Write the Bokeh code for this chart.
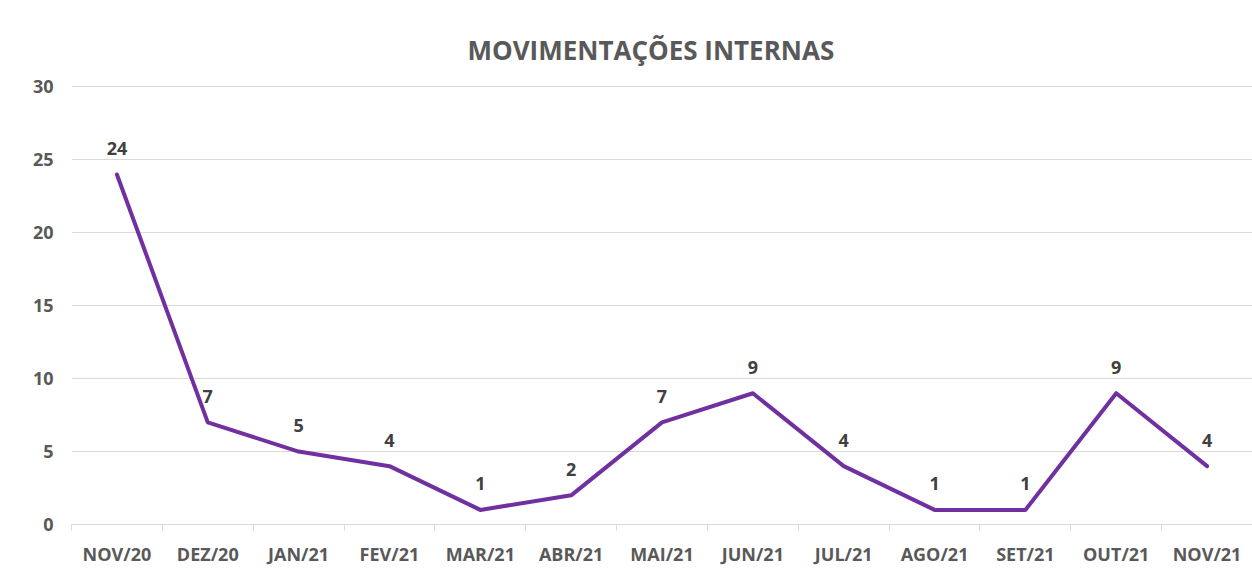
from bokeh.plotting import figure
from bokeh.models import (Range1d, LinearAxis, FixedTicker, SingleIntervalTicker,
                          ColumnDataSource)
from bokeh.core.properties import value
from bokeh.embed import file_html
from bokeh.resources import INLINE

# ---- data ----
categories = ["NOV/20", "DEZ/20", "JAN/21", "FEV/21", "MAR/21", "ABR/21", "MAI/21",
              "JUN/21", "JUL/21", "AGO/21", "SET/21", "OUT/21", "NOV/21"]
values = [24, 7, 5, 4, 1, 2, 7, 9, 4, 1, 1, 9, 4]
title_text = "MOVIMENTAÇÕES INTERNAS"

n = len(categories)
centers = [i + 0.5 for i in range(n)]
bounds = [float(i) for i in range(n + 1)]

FONT = "Open Sans"
GRID = "#d9d9d9"

p = figure(width=1252, height=576, output_backend="svg", toolbar_location=None,
           x_range=Range1d(0, n), y_range=Range1d(0, 30.1),
           x_axis_location=None, y_axis_location=None,
           min_border_left=71, min_border_right=0, min_border_top=85, min_border_bottom=52)
p.outline_line_color = None
p.background_fill_color = "white"
p.border_fill_color = "white"

p.title.text = title_text
p.title.align = "left"
p.title.offset = 396
p.title.text_font = FONT
p.title.text_font_style = "bold"
p.title.text_font_size = "26px"
p.title.text_color = "#595959"
p.title.standoff = 36

# y axis
yax = LinearAxis(ticker=FixedTicker(ticks=[0, 5, 10, 15, 20, 25, 30]))
yax.axis_line_color = None
yax.major_tick_line_color = None
yax.major_tick_out = 0
yax.major_tick_in = 0
yax.minor_tick_line_color = None
yax.minor_tick_out = 0
yax.minor_tick_in = 0
yax.major_label_standoff = 18
yax.major_label_text_font = FONT
yax.major_label_text_font_style = "bold"
yax.major_label_text_font_size = "18px"
yax.major_label_text_color = "#595959"
p.add_layout(yax, "left")

# x axis: labels at centers, tick marks between categories
xax = LinearAxis(ticker=FixedTicker(ticks=centers, minor_ticks=bounds))
xax.major_label_overrides = {c: lab for c, lab in zip(centers, categories)}
xax.axis_line_color = GRID
xax.major_tick_line_color = None
xax.major_tick_out = 0
xax.major_tick_in = 0
xax.minor_tick_line_color = GRID
xax.minor_tick_out = 6
xax.minor_tick_in = 0
xax.major_label_standoff = 11
xax.major_label_text_font = FONT
xax.major_label_text_font_style = "bold"
xax.major_label_text_font_size = "18px"
xax.major_label_text_color = "#595959"
p.add_layout(xax, "below")

p.xgrid.grid_line_color = None
p.ygrid.grid_line_color = GRID
p.ygrid.grid_line_width = 1
p.ygrid.ticker = FixedTicker(ticks=[0, 5, 10, 15, 20, 25, 30])

src = ColumnDataSource(dict(x=centers, y=values, lab=[str(v) for v in values]))
p.line("x", "y", source=src, line_color="#7030A0", line_width=4,
       line_join="round", line_cap="round")
p.text("x", "y", text="lab", source=src, y_offset=-26,
       text_align="center", text_baseline="middle",
       text_font=value(FONT), text_font_style="bold", text_font_size="18px",
       text_color="#404040")

open("out.html", "w").write(file_html(p, INLINE))
